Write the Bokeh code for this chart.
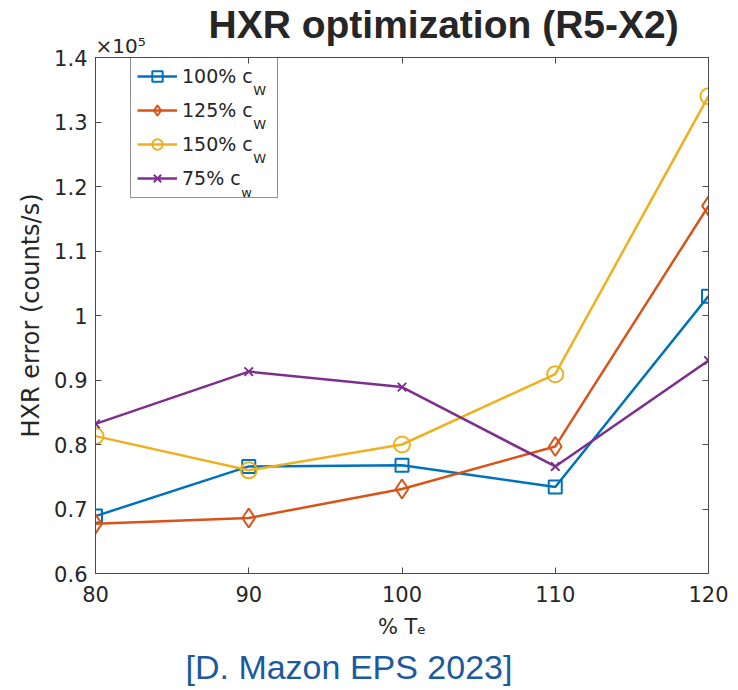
from bokeh.plotting import figure
from bokeh.models import Label, Legend, LegendItem, LinearAxis, FixedTicker, Range1d, Title
from bokeh.embed import file_html
from bokeh.resources import INLINE

# ---- data (HXR error in units of 1e5 counts/s) ----
te_percent = [80, 90, 100, 110, 120]
err_100 = [0.689, 0.766, 0.768, 0.734, 1.030]
err_125 = [0.677, 0.686, 0.731, 0.797, 1.170]
err_150 = [0.813, 0.760, 0.800, 0.909, 1.340]
err_75 = [0.832, 0.913, 0.889, 0.766, 0.930]
series_labels = ["100% c", "125% c", "150% c", "75% c"]
series_subs = ["W", "W", "W", "w"]
x_ticks = [80, 90, 100, 110, 120]
x_tick_labels = ["80", "90", "100", "110", "120"]
y_ticks = [0.6, 0.7, 0.8, 0.9, 1.0, 1.1, 1.2, 1.3, 1.4]
y_tick_labels = ["0.6", "0.7", "0.8", "0.9", "1", "1.1", "1.2", "1.3", "1.4"]

colors = ["#0072BD", "#D95319", "#EDB120", "#7E2F8E"]
markers = ["square", "diamond", "circle", "x"]
msizes = [13, 19, 16, 12]
series = [err_100, err_125, err_150, err_75]

TXT = "#262626"
AX = "#4a4a4a"
FONT = "DejaVu Sans"

p = figure(frame_width=613, frame_height=516,
           x_range=Range1d(80, 120), y_range=Range1d(0.6, 1.4),
           output_backend="svg", toolbar_location=None,
           min_border_left=95, min_border_right=28,
           min_border_top=57, min_border_bottom=112,
           background_fill_color="white", border_fill_color="white")
p.grid.visible = False
p.outline_line_color = AX
p.outline_line_width = 1

def style_axis(ax, ticks, labels=None):
    ax.ticker = FixedTicker(ticks=ticks)
    ax.major_tick_in = 6
    ax.major_tick_out = 0
    ax.minor_tick_in = 0
    ax.minor_tick_out = 0
    ax.axis_line_color = AX
    ax.major_tick_line_color = AX
    ax.major_label_text_font = FONT
    ax.major_label_text_font_size = "21px"
    ax.major_label_text_color = TXT
    if labels is not None:
        ax.major_label_overrides = dict(zip(ticks, labels))

xa = p.xaxis[0]
style_axis(xa, x_ticks, x_tick_labels)
xa.major_label_standoff = 12
xa.axis_label = "% T\u2091"
xa.axis_label_text_font = FONT
xa.axis_label_text_font_size = "21px"
xa.axis_label_text_font_style = "normal"
xa.axis_label_text_color = TXT
xa.axis_label_standoff = 10

ya = p.yaxis[0]
style_axis(ya, y_ticks, y_tick_labels)
ya.major_label_standoff = 8
ya.axis_label = "HXR error (counts/s)"
ya.axis_label_text_font = FONT
ya.axis_label_text_font_size = "24px"
ya.axis_label_text_font_style = "normal"
ya.axis_label_text_color = TXT
ya.axis_label_standoff = 6

# mirrored ticks (box on)
top_ax = LinearAxis()
style_axis(top_ax, x_ticks, ["" for _ in x_ticks])
top_ax.major_label_text_font_size = "0px"
top_ax.major_label_standoff = 0
p.add_layout(top_ax, "above")
right_ax = LinearAxis()
style_axis(right_ax, y_ticks, ["" for _ in y_ticks])
right_ax.major_label_text_font_size = "0px"
right_ax.major_label_standoff = 0
p.add_layout(right_ax, "right")

items = []
for lab, ys, c, m, s in zip(series_labels, series, colors, markers, msizes):
    lr = p.line(te_percent, ys, line_color=c, line_width=2.5)
    sr = p.scatter(te_percent, ys, marker=m, size=s, line_color=c,
                   line_width=2, fill_color=None)
    items.append(LegendItem(label=lab + "   ", renderers=[lr, sr]))

PAD, GW, GH, SP, STAND = 6, 40, 26, 8, 5
leg_h = 2 * PAD + 4 * GH + 3 * SP
leg_x = 35
leg_top = 516 - 1
legend = Legend(items=items, location=(leg_x, leg_top - leg_h), margin=0,
                padding=PAD, glyph_width=GW, glyph_height=GH, label_height=GH,
                spacing=SP, label_standoff=STAND,
                label_text_font=FONT, label_text_font_size="19px",
                label_text_color=TXT, border_line_color="#262626",
                border_line_width=1, background_fill_color="white",
                background_fill_alpha=0.0)
p.add_layout(legend, "center")

# subscripts in legend
char_w = {"1": 0.636, "0": 0.636, "2": 0.636, "5": 0.636, "7": 0.636,
          "%": 0.95, " ": 0.318, "c": 0.55}
for i, (lab, sub) in enumerate(zip(series_labels, series_subs)):
    w = sum(char_w[ch] for ch in lab) * 19
    cx = leg_x + PAD + GW + STAND + w + 1
    cy = leg_top - PAD - i * (GH + SP) - GH / 2
    p.add_layout(Label(x=cx, y=cy - 13, x_units="screen", y_units="screen",
                       text=sub, text_font=FONT, text_font_size="13px",
                       text_color=TXT, text_baseline="alphabetic"))

# x10^5 multiplier and title (stacked above the frame)
p.add_layout(Title(text="\u00d710\u2075", align="left", offset=0,
                   text_font=FONT, text_font_size="20px",
                   text_font_style="normal", text_color=TXT, standoff=0), "above")
p.add_layout(Title(text="HXR optimization (R5-X2)", align="left", offset=113,
                   text_font="Liberation Sans", text_font_size="39px",
                   text_font_style="bold", text_color=TXT, standoff=-28), "above")

# citation
p.add_layout(Title(text="[D. Mazon EPS 2023]", align="left", offset=90,
                   text_font="Liberation Sans", text_font_size="34px",
                   text_font_style="normal", text_color="#1a5a9f",
                   standoff=8), "below")

open("out.html", "w").write(file_html(p, INLINE))
